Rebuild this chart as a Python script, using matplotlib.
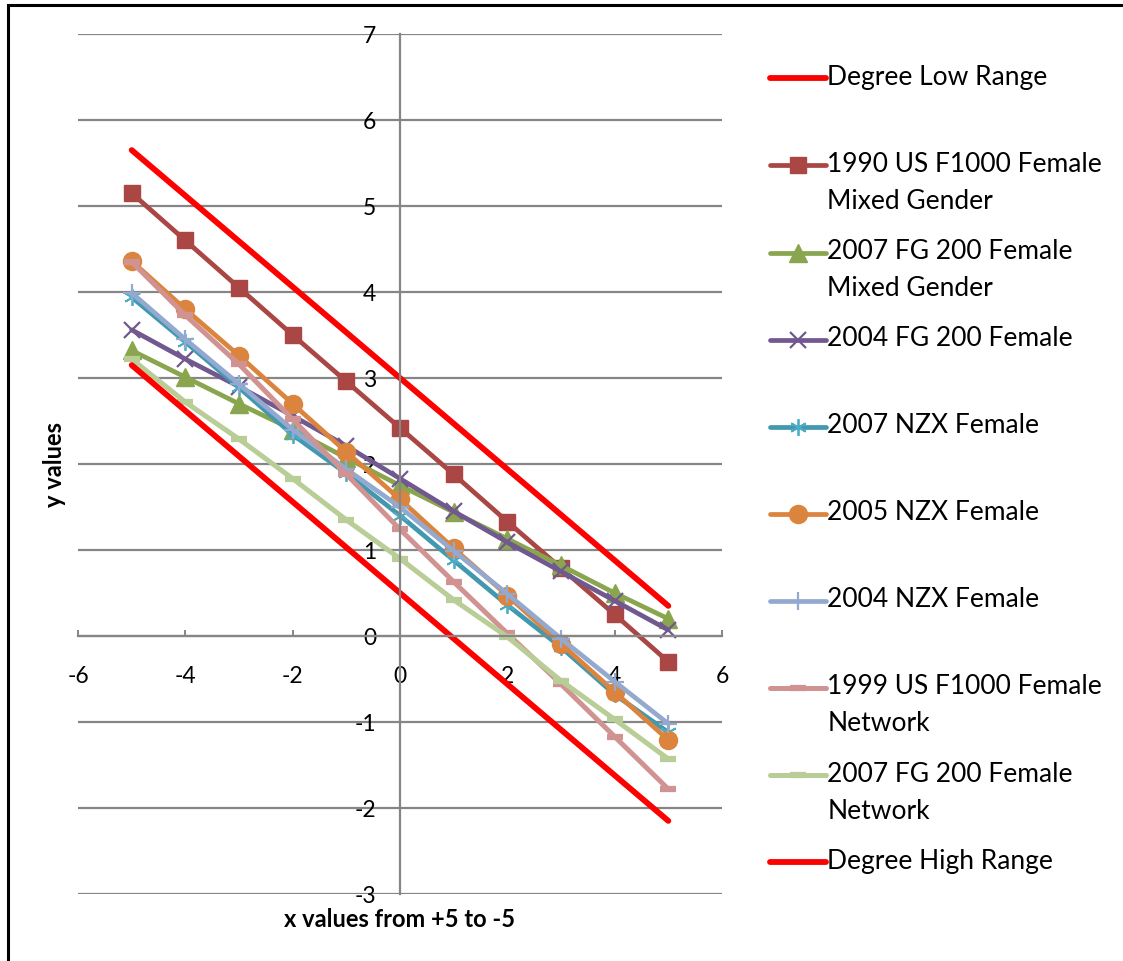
import matplotlib
matplotlib.use("Agg")
import matplotlib.pyplot as plt
from matplotlib.patches import Rectangle
from matplotlib.legend_handler import HandlerLine2D

plt.rcParams['font.family'] = ['Lato', 'DejaVu Sans']
plt.rcParams['axes.unicode_minus'] = False

# x positions shared by every series
x_values = [-5, -4, -3, -2, -1, 0, 1, 2, 3, 4, 5]

degree_low = [5.65, 5.12, 4.59, 4.06, 3.53, 3.00, 2.47, 1.94, 1.41, 0.88, 0.35]
us_f1000_1990_mixed = [5.15, 4.60, 4.05, 3.50, 2.96, 2.42, 1.88, 1.33, 0.79, 0.25, -0.30]
fg200_2007_mixed = [3.32, 3.01, 2.70, 2.40, 2.07, 1.75, 1.44, 1.13, 0.82, 0.50, 0.20]
fg200_2004 = [3.56, 3.22, 2.90, 2.56, 2.21, 1.83, 1.45, 1.09, 0.75, 0.41, 0.07]
nzx_2007 = [3.94, 3.42, 2.89, 2.34, 1.89, 1.40, 0.88, 0.36, -0.13, -0.68, -1.12]
nzx_2005 = [4.36, 3.80, 3.26, 2.70, 2.14, 1.59, 1.02, 0.47, -0.09, -0.65, -1.21]
nzx_2004 = [3.99, 3.45, 2.93, 2.40, 1.94, 1.50, 0.99, 0.49, -0.03, -0.53, -1.02]
us_f1000_1999_network = [4.35, 3.73, 3.16, 2.52, 1.88, 1.24, 0.63, 0.03, -0.56, -1.17, -1.78]
fg200_2007_network = [3.22, 2.72, 2.29, 1.83, 1.35, 0.90, 0.42, -0.01, -0.52, -0.97, -1.43]
degree_high = [3.15, 2.62, 2.09, 1.56, 1.03, 0.50, -0.03, -0.56, -1.09, -1.62, -2.15]

series_labels = [
    "Degree Low Range",
    "1990 US F1000 Female\nMixed Gender",
    "2007 FG 200 Female\nMixed Gender",
    "2004 FG 200 Female",
    "2007 NZX Female",
    "2005 NZX Female",
    "2004 NZX Female",
    "1999 US F1000 Female\nNetwork",
    "2007 FG 200 Female\nNetwork",
    "Degree High Range",
]
x_ticks = [-6, -4, -2, 0, 2, 4, 6]
y_ticks = [-3, -2, -1, 0, 1, 2, 3, 4, 5, 6, 7]

series_values = [degree_low, us_f1000_1990_mixed, fg200_2007_mixed, fg200_2004,
                 nzx_2007, nzx_2005, nzx_2004, us_f1000_1999_network,
                 fg200_2007_network, degree_high]

styles = [
    dict(color="#FF0000", lw=4.2, marker=None),
    dict(color="#AA4643", lw=3.4, marker="s", ms=12),
    dict(color="#89A54E", lw=3.4, marker="^", ms=13),
    dict(color="#71588F", lw=3.4, marker="x", ms=12, mew=1.6),
    dict(color="#4198AF", lw=3.4, marker=(6, 2, 0), ms=12, mew=1.3, mec="#4BACC6"),
    dict(color="#DB843D", lw=3.4, marker="o", ms=13),
    dict(color="#93A9CF", lw=3.4, marker="+", ms=13, mew=1.6),
    dict(color="#D19392", lw=3.6, marker="_", ms=12, mew=4.5),
    dict(color="#B9CD96", lw=3.6, marker="_", ms=12, mew=4.5),
    dict(color="#FF0000", lw=4.2, marker=None),
]

fig = plt.figure(figsize=(11.23, 9.62), dpi=100)
W, H = 1123, 962
ax = fig.add_axes([78 / W, 1 - 895 / H, 644 / W, 860 / H])

grid_color = "#868686"
ax.set_xlim(-6, 6)
ax.set_ylim(-3, 7)
ax.set_xticks(x_ticks)
ax.set_yticks(y_ticks)
ax.yaxis.grid(True, color=grid_color, lw=1.6)
ax.set_axisbelow(True)

for side in ("top", "right"):
    ax.spines[side].set_visible(False)
ax.spines["left"].set_position(("data", 0))
ax.spines["bottom"].set_position(("data", 0))
for side in ("left", "bottom"):
    ax.spines[side].set_color(grid_color)
    ax.spines[side].set_linewidth(1.6)

ax.tick_params(axis="x", direction="in", length=4, width=1.4, color=grid_color,
               pad=21, labelsize=16.5)
ax.tick_params(axis="y", length=0, pad=17, labelsize=16.5)

lines = []
for vals, lab, st in zip(series_values, series_labels, styles):
    st = dict(st)
    color = st.pop("color")
    kw = dict(color=color, lw=st.pop("lw"), solid_capstyle="round",
              solid_joinstyle="round", label=lab, clip_on=False)
    mk = st.pop("marker")
    if mk is not None:
        kw.update(marker=mk, markersize=st.pop("ms"),
                  markeredgewidth=st.pop("mew", 1.0),
                  markeredgecolor=st.pop("mec", color), markerfacecolor=color)
    ln, = ax.plot(x_values, vals, **kw)
    lines.append(ln)

ax.text(0.5, -0.028, "x values from +5 to -5", transform=ax.transAxes,
        ha="center", va="center", fontsize=17, fontweight="bold")
ax.text(-0.037, 0.5, "y values", transform=ax.transAxes, rotation=90,
        ha="center", va="center", fontsize=17, fontweight="bold")


class FirstLineHandler(HandlerLine2D):
    """Places the legend sample level with the first line of its label."""

    def __init__(self, shift, **kw):
        super().__init__(**kw)
        self.shift = shift

    def create_artists(self, legend, orig_handle, xdescent, ydescent, width,
                       height, fontsize, trans):
        return super().create_artists(legend, orig_handle, xdescent,
                                      ydescent - 2 * self.shift, width, height,
                                      fontsize, trans)


legend_fs = 19
legend_labels = [lab if "\n" in lab else lab + "\n " for lab in series_labels]
handler = FirstLineHandler(shift=12.5, numpoints=1)
leg = fig.legend(lines, legend_labels, loc="upper left",
                 bbox_to_anchor=(770 / W, 1 - 65 / H), frameon=False,
                 fontsize=legend_fs, handlelength=2.12, handletextpad=0.05,
                 labelspacing=0.95, borderpad=0, borderaxespad=0,
                 handler_map={l: handler for l in lines})
for t in leg.get_texts():
    t.set_linespacing(1.6)

fig.add_artist(Rectangle((8 / W, -0.1), 1.2, 1.1 - 6 / H, transform=fig.transFigure,
                         fill=False, edgecolor="black", lw=2.2))

fig.savefig("out.png", dpi=100)
